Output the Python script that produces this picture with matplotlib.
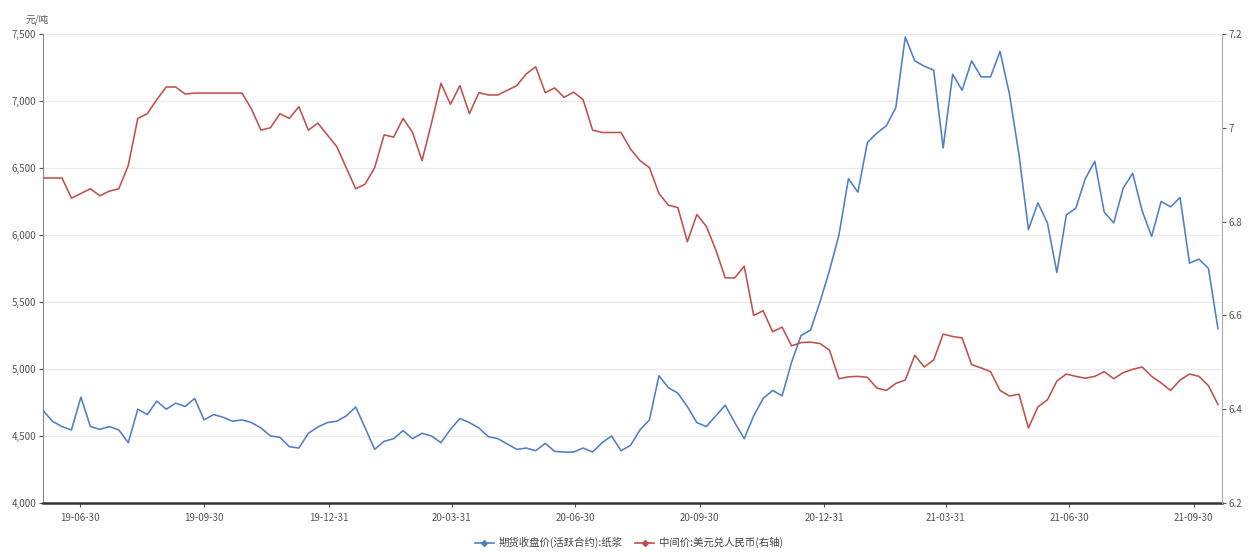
import matplotlib
matplotlib.use('Agg')
import matplotlib.pyplot as plt
import matplotlib.dates as mdates
import matplotlib.ticker as mticker
import numpy as np
import pandas as pd

plt.rcParams['font.family'] = ['Noto Sans CJK SC', 'DejaVu Sans']

#--------------------------------------------------------------
# Data (weekly readings, Jun 2019 - Oct 2021)
dates = pd.date_range('2019-06-03', periods=125, freq='7D')

# 期货收盘价(活跃合约):纸浆  [元/吨]
pulp = [4690, 4610, 4570, 4545, 4790, 4570, 4550, 4570, 4545, 4450,
        4700, 4660, 4760, 4700, 4745, 4720, 4780, 4620, 4660, 4640,
        4610, 4620, 4600, 4560, 4500, 4490, 4420, 4410, 4520, 4567,
        4600, 4610, 4650, 4716, 4560, 4400, 4460, 4480, 4540, 4480,
        4520, 4500, 4450, 4550, 4630, 4600, 4560, 4495, 4480, 4440,
        4400, 4410, 4390, 4445, 4385, 4380, 4380, 4410, 4380, 4450,
        4500, 4390, 4430, 4545, 4620, 4950, 4860, 4820, 4720, 4600,
        4570, 4650, 4730, 4600, 4480, 4650, 4780, 4840, 4800, 5050,
        5250, 5290, 5500, 5735, 6000, 6420, 6320, 6690, 6760, 6815,
        6950, 7478, 7300, 7260, 7230, 6650, 7200, 7080, 7300, 7180,
        7180, 7370, 7050, 6600, 6040, 6240, 6090, 5720, 6150, 6200,
        6420, 6550, 6170, 6090, 6350, 6460, 6180, 5990, 6250, 6210,
        6280, 5790, 5820, 5750, 5300]

# 中间价:美元兑人民币(右轴)
usdcny = [6.893, 6.893, 6.893, 6.850, 6.860, 6.870, 6.855, 6.865, 6.870, 6.920,
          7.020, 7.030, 7.060, 7.087, 7.087, 7.072, 7.074, 7.074, 7.074, 7.074,
          7.074, 7.074, 7.040, 6.995, 7.000, 7.030, 7.020, 7.045, 6.995, 7.010,
          6.985, 6.960, 6.915, 6.870, 6.880, 6.915, 6.985, 6.980, 7.020, 6.990,
          6.930, 7.010, 7.095, 7.050, 7.090, 7.030, 7.075, 7.070, 7.070, 7.080,
          7.090, 7.115, 7.130, 7.075, 7.085, 7.065, 7.076, 7.060, 6.995, 6.990,
          6.990, 6.990, 6.955, 6.930, 6.915, 6.860, 6.835, 6.830, 6.757, 6.815,
          6.790, 6.740, 6.680, 6.680, 6.705, 6.600, 6.610, 6.565, 6.575, 6.535,
          6.542, 6.543, 6.540, 6.526, 6.465, 6.469, 6.470, 6.468, 6.445, 6.440,
          6.455, 6.462, 6.515, 6.490, 6.505, 6.560, 6.555, 6.552, 6.495, 6.488,
          6.480, 6.440, 6.428, 6.432, 6.360, 6.405, 6.420, 6.460, 6.475, 6.470,
          6.466, 6.470, 6.480, 6.465, 6.478, 6.485, 6.490, 6.470, 6.456, 6.440,
          6.462, 6.475, 6.470, 6.450, 6.410]

tick_dates  = ['2019-06-30', '2019-09-30', '2019-12-31', '2020-03-31', '2020-06-30',
               '2020-09-30', '2020-12-31', '2021-03-31', '2021-06-30', '2021-09-30']
left_ticks  = [4000, 4500, 5000, 5500, 6000, 6500, 7000, 7500]
right_ticks = [6.2, 6.4, 6.6, 6.8, 7.0, 7.2]

label_pulp = '期货收盘价(活跃合约):纸浆'
label_fx   = '中间价:美元兑人民币(右轴)'

#--------------------------------------------------------------
BLUE = '#4f7fc4'
RED  = '#c0504d'
TXT  = '#555555'

fig = plt.figure(figsize=(12.58, 5.52), dpi=100)
ax = fig.add_axes([0.0342, 0.0888, 0.9372, 0.8496])
ax2 = ax.twinx()

ax.plot(dates, pulp, color=BLUE, lw=1.15, zorder=3)
ax2.plot(dates, usdcny, color=RED, lw=1.15, zorder=3)

# left axis
ax.set_ylim(4000, 7500)
ax.set_yticks(left_ticks)
ax.yaxis.set_major_formatter(mticker.FuncFormatter(lambda v, p: f'{int(v):,}'))
ax.grid(axis='y', color='#ebebeb', lw=1)
ax.set_axisbelow(True)

# right axis
ax2.set_ylim(6.2, 7.2)
ax2.set_yticks(right_ticks)
ax2.yaxis.set_major_formatter(mticker.FuncFormatter(lambda v, p: f'{v:g}'))

# x axis
ax.set_xlim(pd.Timestamp('2019-06-03'), pd.Timestamp('2021-10-21'))
ax.set_xticks(pd.to_datetime(tick_dates))
ax.xaxis.set_major_formatter(mdates.DateFormatter('%y-%m-%d'))

for a in (ax, ax2):
    a.tick_params(labelsize=7, colors=TXT, length=3, width=0.8, pad=2)
    a.spines['top'].set_visible(False)
ax.tick_params(axis='x', pad=4)
ax.spines['bottom'].set_color('#333333')
ax.spines['bottom'].set_linewidth(1.8)
ax.spines['left'].set_color('#888888')
ax.spines['right'].set_visible(False)
ax2.spines['left'].set_visible(False)
ax2.spines['bottom'].set_visible(False)
ax2.spines['right'].set_color('#aaaaaa')

fig.text(0.020, 0.965, '元/吨', fontsize=7, color=TXT, ha='left', va='center')

# legend
h1, = ax.plot([], [], color=BLUE, lw=1.2, marker='D', ms=3)
h2, = ax.plot([], [], color=RED, lw=1.2, marker='D', ms=3)
fig.legend([h1, h2], [label_pulp, label_fx], loc='center', bbox_to_anchor=(0.5, 0.017),
           ncol=2, frameon=False, fontsize=7.5, labelcolor='#444444',
           handlelength=1.8, columnspacing=1.2, handletextpad=0.5)

plt.savefig('out.png', dpi=100)
